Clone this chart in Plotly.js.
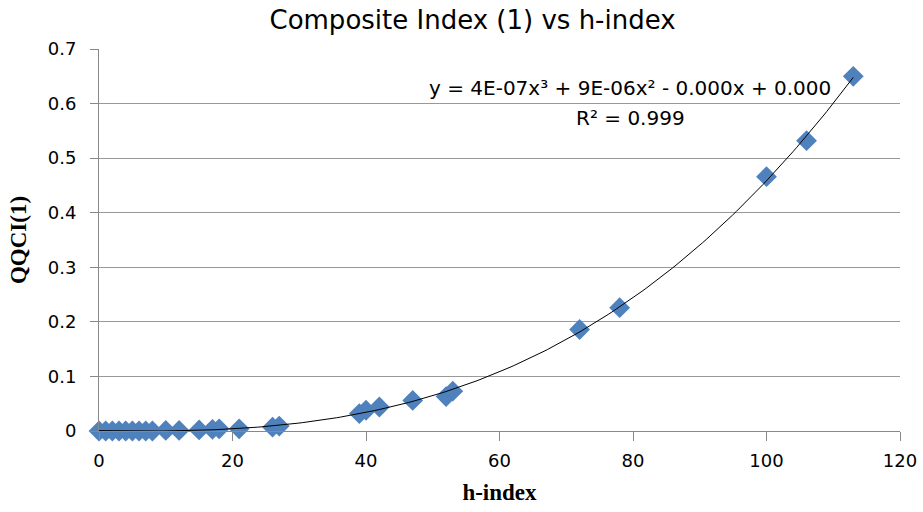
<!DOCTYPE html>
<html>
<head>
<meta charset="utf-8">
<script src="https://cdn.plot.ly/plotly-3.0.1.min.js"></script>
<style>html,body{margin:0;padding:0;background:#fff;}#chart{width:923px;height:512px;}</style>
</head>
<body>
<div id="chart"></div>
<script>
// h-index values (x) and QQCI(1) values (y)
var hIndex = [0, 1, 2, 3, 4, 5, 6, 7, 8, 10, 12, 15, 17, 18, 21, 26, 27, 39, 40, 42, 47, 52, 53, 72, 78, 100, 106, 113];
var qqci   = [0, 0, 0, 0, 0, 0, 0, 0, 0, 0.001, 0.001, 0.002, 0.003, 0.004, 0.004, 0.007, 0.009, 0.032, 0.038, 0.044, 0.056, 0.063, 0.073, 0.186, 0.226, 0.466, 0.532, 0.650];
var xTicks = [0, 20, 40, 60, 80, 100, 120];
var yTicks = [0, 0.1, 0.2, 0.3, 0.4, 0.5, 0.6, 0.7];

// Cubic least-squares trend line (like the spreadsheet's polynomial trendline)
function polyfit(xs, ys, deg) {
  var n = deg + 1, A = [], b = [];
  for (var i = 0; i < n; i++) {
    A.push([]); b.push(0);
    for (var j = 0; j < n; j++) {
      var s = 0;
      for (var k = 0; k < xs.length; k++) s += Math.pow(xs[k], i + j);
      A[i].push(s);
    }
    for (var k = 0; k < xs.length; k++) b[i] += ys[k] * Math.pow(xs[k], i);
  }
  for (var c = 0; c < n; c++) {
    var p = c;
    for (var r = c + 1; r < n; r++) if (Math.abs(A[r][c]) > Math.abs(A[p][c])) p = r;
    var t = A[c]; A[c] = A[p]; A[p] = t; var tb = b[c]; b[c] = b[p]; b[p] = tb;
    for (var r = c + 1; r < n; r++) {
      var f = A[r][c] / A[c][c];
      for (var q = c; q < n; q++) A[r][q] -= f * A[c][q];
      b[r] -= f * b[c];
    }
  }
  var coef = new Array(n);
  for (var r = n - 1; r >= 0; r--) {
    var s = b[r];
    for (var q = r + 1; q < n; q++) s -= A[r][q] * coef[q];
    coef[r] = s / A[r][r];
  }
  return coef;
}
var coef = polyfit(hIndex, qqci, 3);
var fitX = [], fitY = [];
var xmin = Math.min.apply(null, hIndex), xmax = Math.max.apply(null, hIndex);
for (var i = 0; i <= 200; i++) {
  var xv = xmin + (xmax - xmin) * i / 200;
  fitX.push(xv);
  fitY.push(coef[0] + coef[1] * xv + coef[2] * xv * xv + coef[3] * xv * xv * xv);
}

var tickFont = {family: 'DejaVu Sans, sans-serif', size: 18, color: '#000'};
var axTitleFont = {family: 'Liberation Serif, Times New Roman, serif', size: 23, color: '#000', weight: 'bold'};

var traces = [
  {
    x: hIndex, y: qqci, type: 'scatter', mode: 'markers',
    marker: {symbol: 'diamond', size: 16, color: '#4F81BD'},
    hoverinfo: 'x+y', showlegend: false, cliponaxis: false
  },
  {
    x: fitX, y: fitY, type: 'scatter', mode: 'lines',
    line: {color: '#000000', width: 1},
    hoverinfo: 'skip', showlegend: false
  }
];

var layout = {
  width: 923, height: 512,
  margin: {l: 99, r: 23, t: 49, b: 81},
  paper_bgcolor: '#ffffff', plot_bgcolor: '#ffffff',
  title: {
    text: 'Composite Index (1) vs h-index',
    font: {family: 'DejaVu Sans, sans-serif', size: 26, color: '#000'},
    x: 0.512, xanchor: 'center', y: 0.962, yanchor: 'middle'
  },
  xaxis: {
    range: [0, 120], tickvals: xTicks, ticktext: xTicks.map(String),
    showgrid: false, zeroline: false,
    showline: true, linecolor: '#888888', linewidth: 1,
    ticks: 'outside', ticklen: 9, tickcolor: '#888888',
    ticklabelstandoff: 4,
    tickfont: tickFont,
    title: {text: 'h-index', font: axTitleFont, standoff: 14}
  },
  yaxis: {
    range: [0, 0.7], tickvals: yTicks, ticktext: yTicks.map(String),
    showgrid: true, gridcolor: '#999999', gridwidth: 1, zeroline: false,
    showline: true, linecolor: '#888888', linewidth: 1,
    ticks: 'outside', ticklen: 8, tickcolor: '#888888',
    ticklabelstandoff: 10,
    tickfont: tickFont,
    title: {text: 'QQCI(1)', font: axTitleFont, standoff: 14}
  },
  annotations: [
    {
      xref: 'paper', yref: 'paper', x: 0.663, y: 0.898, xanchor: 'center', yanchor: 'middle',
      text: 'y = 4E-07x³ + 9E-06x² - 0.000x + 0.000', showarrow: false,
      font: {family: 'DejaVu Sans, sans-serif', size: 20, color: '#000'}
    },
    {
      xref: 'paper', yref: 'paper', x: 0.663, y: 0.819, xanchor: 'center', yanchor: 'middle',
      text: 'R² = 0.999', showarrow: false,
      font: {family: 'DejaVu Sans, sans-serif', size: 20, color: '#000'}
    }
  ]
};

Plotly.newPlot('chart', traces, layout, {displayModeBar: false, staticPlot: true});
</script>
</body>
</html>
